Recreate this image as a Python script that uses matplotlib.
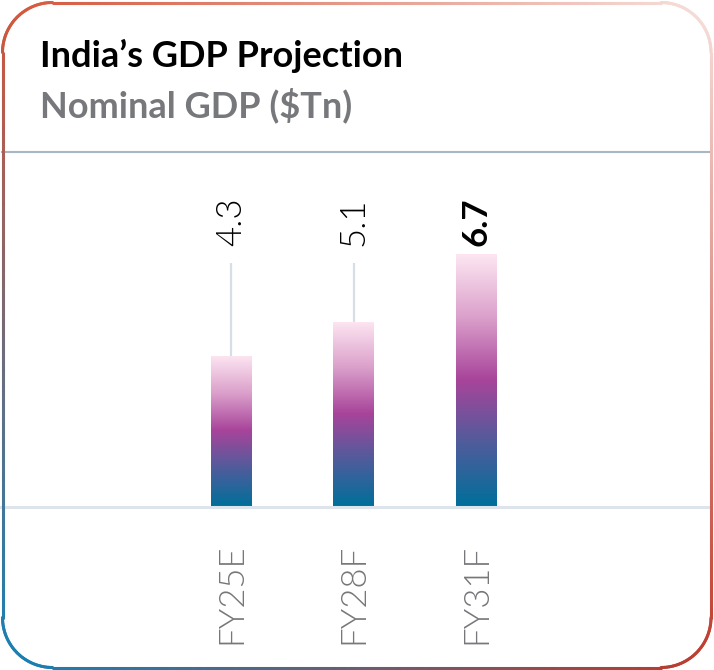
import numpy as np
import matplotlib
matplotlib.use("Agg")
import matplotlib.pyplot as plt
from matplotlib.colors import LinearSegmentedColormap, to_rgb
from matplotlib.collections import LineCollection

# ---- data ----
categories = ["FY25E", "FY28F", "FY31F"]
values = [4.3, 5.1, 6.7]
value_labels = ["4.3", "5.1", "6.7"]
title = "India\u2019s GDP Projection"
subtitle = "Nominal GDP ($Tn)"

W, H = 714, 670
fig = plt.figure(figsize=(W / 100, H / 100), dpi=100)
fig.patch.set_facecolor("white")

FONT = "Lato"

def fy(px):
    return 1 - px / H

def fx(px):
    return px / W

# ---- main axes ----
base = 0.75          # visible bottom of the value axis
k = 42.3             # px per unit
ax_top_px, ax_bot_px = 160, 506
ax = fig.add_axes([0, fy(ax_bot_px), 1, (ax_bot_px - ax_top_px) / H])
ax.set_axis_off()
ymax = base + (ax_bot_px - ax_top_px) / k

xs = np.arange(len(categories))
px_per_x = 122.5
xmin = -231 / px_per_x
xmax = xmin + W / px_per_x
bar_w = 41 / px_per_x

cmap = LinearSegmentedColormap.from_list(
    "g", [(0, "#006f9a"), (0.25, "#4f5c9c"), (0.5, "#a8449a"), (0.75, "#dba0cb"), (1, "#fde6f2")])
grad = np.linspace(0, 1, 256).reshape(-1, 1)

bars = ax.bar(xs, np.array(values) - base, bottom=base, width=bar_w,
              color="none", edgecolor="none")
for b, v in zip(bars, values):
    x0 = b.get_x()
    im = ax.imshow(grad, extent=[x0, x0 + bar_w, base, v], origin="lower",
                   cmap=cmap, aspect="auto", interpolation="bilinear", zorder=2)
    im.set_clip_path(b)

# leader lines & value labels
line_top = base + (ax_bot_px - 263) / k
label_y = base + (ax_bot_px - 246) / k
for x, v, lab in zip(xs, values, value_labels):
    if v < line_top:
        ax.plot([x, x], [v, line_top], color="#d6dfe8", lw=1.6, zorder=1,
                solid_capstyle="butt")
    bold = v == max(values)
    ax.text(x, label_y, lab, rotation=90, ha="center", va="bottom",
            fontsize=25, family=FONT, color="black",
            fontweight="bold" if bold else 300)

ax.set_xlim(xmin, xmax)
ax.set_ylim(base, ymax)

# category labels
for x, c in zip(xs, categories):
    xp = (x - xmin) * px_per_x
    fig.text(fx(xp), fy(644), c, rotation=90, ha="center", va="bottom",
             fontsize=25, family=FONT, fontweight=300, color="#76777a")

# ---- overlay for card ----
ov = fig.add_axes([0, 0, 1, 1], zorder=5)
ov.set_xlim(0, W)
ov.set_ylim(H, 0)
ov.set_axis_off()
ov.patch.set_alpha(0)

# horizontal rules
ov.plot([2, 711], [152, 152], color="#a7b7c6", lw=1.5)
ov.plot([0, 711], [506.5, 506.5], color="#dde4ec", lw=2.2)

# rounded border with gradient
L, R, T, B, r = 2.5, 711, 2.5, 667.5, 50
def arc(cx, cy, a0, a1):
    t = np.linspace(np.radians(a0), np.radians(a1), 40)
    return np.c_[cx + r * np.cos(t), cy + r * np.sin(t)]
def seg(p0, p1):
    t = np.linspace(0, 1, 120)[:, None]
    return p0 + (np.array(p1) - p0) * t
path = np.vstack([
    seg(np.array([L + r, T]), [R - r, T]),
    arc(R - r, T + r, -90, 0),
    seg(np.array([R, T + r]), [R, B - r]),
    arc(R - r, B - r, 0, 90),
    seg(np.array([R - r, B]), [L + r, B]),
    arc(L + r, B - r, 90, 180),
    seg(np.array([L, B - r]), [L, T + r]),
    arc(L + r, T + r, 180, 270),
])
TL = np.array(to_rgb("#d4553a"))
TR = np.array(to_rgb("#f7e1dd"))
BL = np.array(to_rgb("#1481b6"))
BR = np.array(to_rgb("#bf3a2b"))
segs = np.stack([path[:-1], path[1:]], axis=1)
mid = segs.mean(axis=1)
u = ((mid[:, 0] - L) / (R - L))[:, None]
v = ((mid[:, 1] - T) / (B - T))[:, None]
cols = (1 - u) * (1 - v) * TL + u * (1 - v) * TR + (1 - u) * v * BL + u * v * BR
ov.add_collection(LineCollection(segs, colors=cols, linewidths=2.2, capstyle="round"))

# titles
fig.text(fx(40), fy(67), title, fontsize=26, fontweight="bold", family=FONT,
         color="black", va="baseline", ha="left")
fig.text(fx(40), fy(117), subtitle, fontsize=26, fontweight="bold", family=FONT,
         color="#77787b", va="baseline", ha="left")

fig.savefig("out.png", dpi=100, facecolor="white")
